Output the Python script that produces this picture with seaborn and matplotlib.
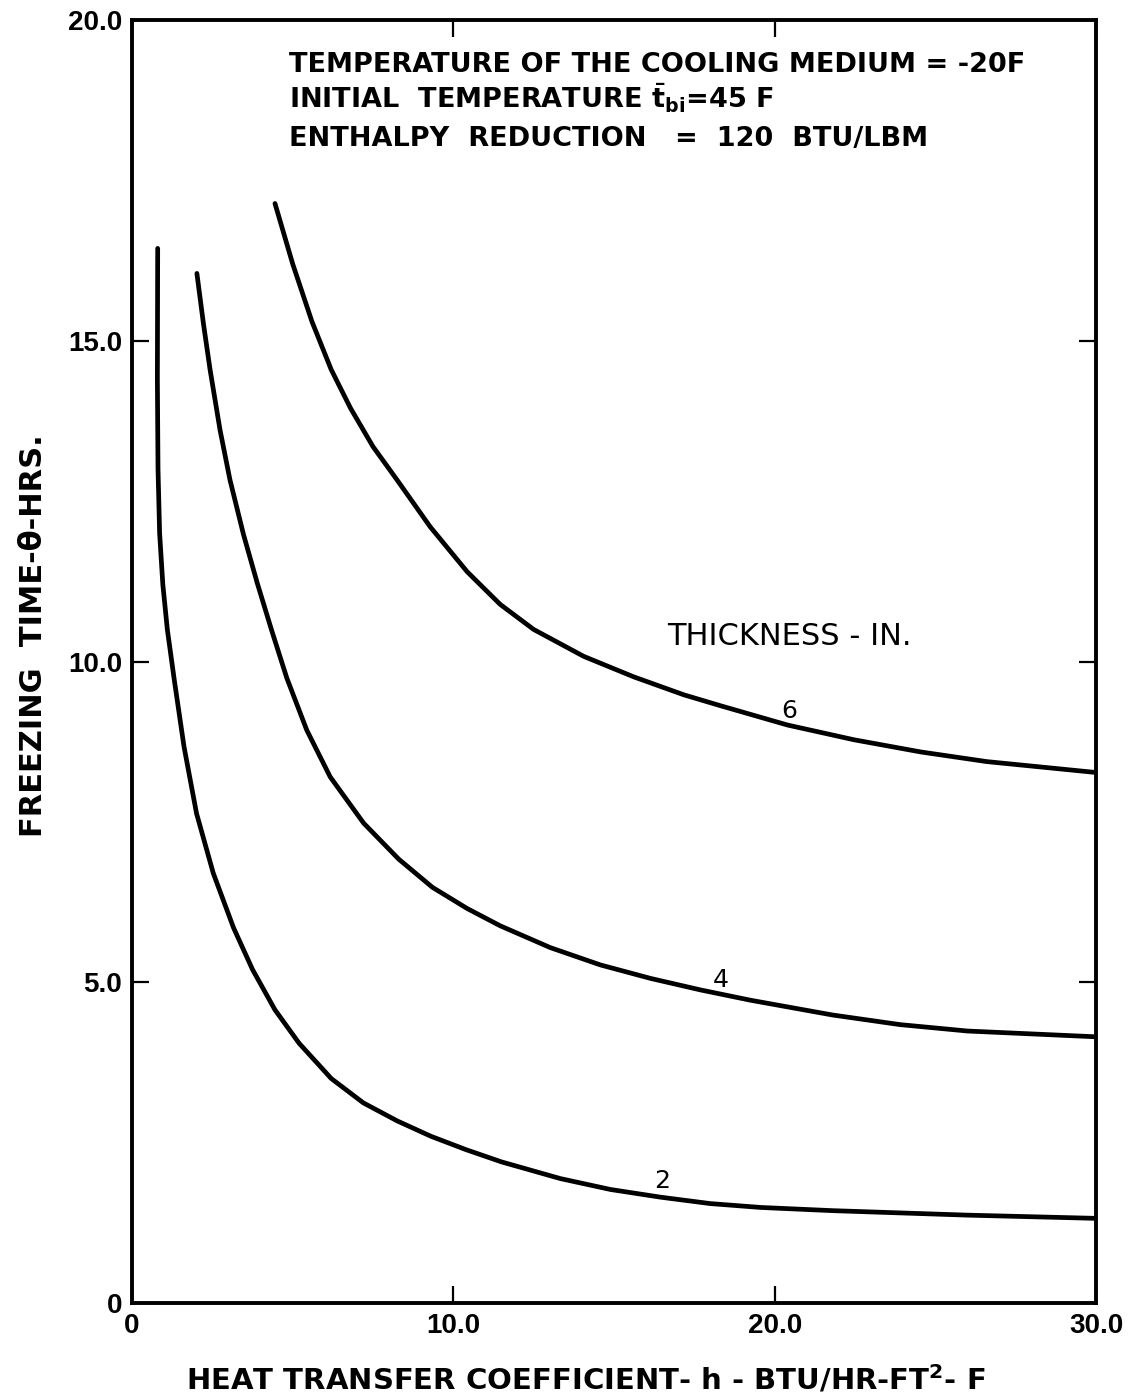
import matplotlib
matplotlib.use("Agg")
import matplotlib.pyplot as plt
import numpy as np
import pandas as pd
import seaborn as sns

# ---------------- data ----------------
h_2in = [0.80, 0.79, 0.81, 0.86, 0.96, 1.10, 1.32, 1.62, 2.01, 2.53, 3.16, 3.75,
         4.45, 5.20, 6.20, 7.20, 8.25, 9.30, 10.40, 11.50, 13.33, 14.89, 16.45,
         18.0, 19.56, 21.8, 26.0, 30.0]
t_2in = [16.44, 14.40, 13.00, 12.00, 11.20, 10.50, 9.70, 8.67, 7.63, 6.70, 5.85, 5.20,
         4.57, 4.05, 3.50, 3.12, 2.84, 2.60, 2.39, 2.20, 1.94, 1.77, 1.65,
         1.55, 1.49, 1.44, 1.37, 1.32]

h_4in = [2.02, 2.22, 2.43, 2.74, 3.05, 3.47, 3.90, 4.35, 4.82, 5.44, 6.17, 7.21,
         8.30, 9.35, 10.43, 11.46, 13.02, 14.58, 16.14, 17.7, 19.25, 21.8, 23.9,
         26.0, 30.0]
t_4in = [16.05, 15.28, 14.55, 13.61, 12.83, 11.98, 11.22, 10.48, 9.74, 8.93, 8.20, 7.48,
         6.92, 6.48, 6.15, 5.88, 5.54, 5.27, 5.06, 4.88, 4.72, 4.49, 4.34,
         4.24, 4.15]

h_6in = [4.45, 5.00, 5.60, 6.20, 6.80, 7.50, 8.25, 9.28, 10.43, 11.46, 12.5, 14.06,
         15.62, 17.18, 18.32, 20.4, 22.47, 24.55, 26.6, 30.0]
t_6in = [17.14, 16.20, 15.30, 14.55, 13.95, 13.35, 12.83, 12.10, 11.40, 10.89, 10.50, 10.08,
         9.76, 9.48, 9.31, 9.01, 8.78, 8.59, 8.44, 8.27]

thickness_labels = ["2", "4", "6"]
label_h = [16.5, 18.32, 20.44]
label_t = [1.79, 4.93, 9.12]

x_ticks = [0, 10, 20, 30]
x_tick_labels = ["0", "10.0", "20.0", "30.0"]
y_ticks = [0, 5, 10, 15, 20]
y_tick_labels = ["0", "5.0", "10.0", "15.0", "20.0"]

info_lines = [
    "TEMPERATURE OF THE COOLING MEDIUM = -20F",
    r"INITIAL  TEMPERATURE $\mathregular{\bar{t}_{bi}}$=45 F",
    "ENTHALPY  REDUCTION   =  120  BTU/LBM",
]
legend_title = "THICKNESS - IN."
x_label = r"HEAT TRANSFER COEFFICIENT- h - BTU/HR-FT$^{\mathregular{2}}$- F"
y_label = "FREEZING  TIME-θ-HRS."

df = pd.concat([
    pd.DataFrame({"h": h_2in, "t": t_2in, "thickness": "2"}),
    pd.DataFrame({"h": h_4in, "t": t_4in, "thickness": "4"}),
    pd.DataFrame({"h": h_6in, "t": t_6in, "thickness": "6"}),
], ignore_index=True)

# ---------------- style ----------------
sns.set_theme(style="ticks")
plt.rcParams["font.family"] = ["Liberation Sans", "DejaVu Sans"]
plt.rcParams["text.color"] = "black"
plt.rcParams["axes.labelcolor"] = "black"
plt.rcParams["xtick.color"] = "black"
plt.rcParams["ytick.color"] = "black"
plt.rcParams["mathtext.fontset"] = "custom"
plt.rcParams["mathtext.rm"] = "DejaVu Sans:bold"
plt.rcParams["mathtext.it"] = "DejaVu Sans:bold"
plt.rcParams["mathtext.bf"] = "DejaVu Sans:bold"

fig = plt.figure(figsize=(11.3, 13.99), dpi=100)
ax = fig.add_axes([0.1168, 0.0686, 0.8531, 0.9171])

sns.lineplot(data=df, x="h", y="t", units="thickness", estimator=None, sort=False,
             color="black", linewidth=3.4, legend=False, ax=ax,
             solid_capstyle="round", solid_joinstyle="round")

ax.set_xlim(0, 30)
ax.set_ylim(0, 20)
ax.set_xticks(x_ticks)
ax.set_xticklabels(x_tick_labels)
ax.set_yticks(y_ticks)
ax.set_yticklabels(y_tick_labels)
ax.tick_params(direction="in", length=12, width=1.6, top=True, right=True,
               labelsize=20, pad=7, colors="black")
for lab in ax.get_xticklabels() + ax.get_yticklabels():
    lab.set_fontweight("bold")
for sp in ax.spines.values():
    sp.set_linewidth(2.8)
    sp.set_color("black")

ax.set_xlabel(x_label, fontsize=21, fontweight="bold", family="DejaVu Sans")
ax.xaxis.set_label_coords(0.471, -0.047)
ax.set_ylabel(y_label, fontsize=22, fontweight="bold", family="DejaVu Sans")
ax.yaxis.set_label_coords(-0.087, 0.52)

info_y = [19.19, 18.62, 18.04]
for txt, yy in zip(info_lines, info_y):
    ax.text(4.88, yy, txt, fontsize=19.5, fontweight="bold", family="DejaVu Sans",
            ha="left", va="baseline")

ax.text(16.66, 10.26, legend_title, fontsize=22, family="DejaVu Sans",
        ha="left", va="baseline")
for lab, xx, yy in zip(thickness_labels, label_h, label_t):
    ax.text(xx, yy, lab, fontsize=18, family="DejaVu Sans", ha="center", va="baseline")

fig.savefig("out.png", dpi=100)
